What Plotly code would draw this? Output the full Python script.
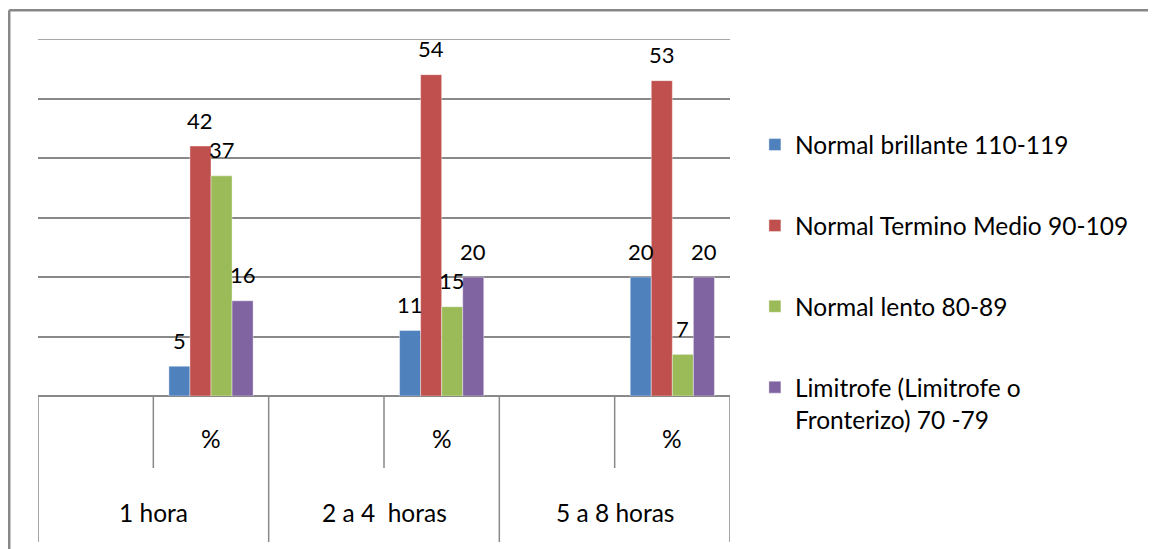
import plotly.graph_objects as go

groups = ["1 hora", "2 a 4  horas", "5 a 8 horas"]
sub_label = "%"
series_names = [
    "Normal brillante 110-119",
    "Normal Termino Medio 90-109",
    "Normal lento 80-89",
    "Limitrofe (Limitrofe o<br>Fronterizo) 70 -79",
]
brillante = [5, 11, 20]
termino_medio = [42, 54, 53]
lento = [37, 15, 7]
limitrofe = [16, 20, 20]
colors = ["#4F81BD", "#C0504D", "#9BBB59", "#8064A2"]

series_values = [brillante, termino_medio, lento, limitrofe]

FONT = "Lato"
GRID = "#898989"
BARGAP = 0.635
TXT = 24.5
Y_MAX = 60

# each outer group holds two inner slots: an empty one and "%"; bars sit in "%"
x_pos = [2 * i + 1.5 for i in range(len(groups))]
bar_w = (1 - BARGAP) * 2 / len(series_values)

fig = go.Figure()
for k, (name, vals, col) in enumerate(zip(series_names, series_values, colors)):
    fig.add_trace(go.Bar(
        x=x_pos, y=vals, name=name, legendgroup=str(k),
        marker=dict(color=col, line=dict(color="rgba(255,255,255,0.5)", width=0.8)),
        hoverinfo="skip",
    ))
    for xp, v in zip(x_pos, vals):
        fig.add_annotation(
            x=xp + (k - 1.5) * bar_w, y=v, xref="x", yref="y",
            text=str(v), showarrow=False, yshift=26, yanchor="middle",
            font=dict(family=FONT, size=22, color="#000"),
        )

shapes = []
# top gridline (edge gridline is not drawn by plotly)
shapes.append(dict(type="line", xref="x", yref="y", x0=0, x1=6, y0=Y_MAX, y1=Y_MAX,
                   line=dict(color=GRID, width=1.5), layer="below"))
# category axis separators
for i in range(len(groups) + 1):
    shapes.append(dict(type="line", xref="x", yref="paper", x0=2 * i, x1=2 * i,
                       y0=-0.409, y1=0, line=dict(color=GRID, width=1.5)))
for i in range(len(groups)):
    shapes.append(dict(type="line", xref="x", yref="paper", x0=2 * i + 1, x1=2 * i + 1,
                       y0=-0.2017, y1=0, line=dict(color=GRID, width=1.5)))
    fig.add_annotation(x=2 * i + 1.5, y=-0.1204, xref="x", yref="paper", text=sub_label,
                       showarrow=False, yanchor="middle",
                       font=dict(family=FONT, size=TXT, color="#000"))
    fig.add_annotation(x=2 * i + 1, y=-0.325, xref="x", yref="paper", text=groups[i],
                       showarrow=False, yanchor="middle",
                       font=dict(family=FONT, size=TXT, color="#000"))
# outer chart border (only top and left edges fall inside the picture)
shapes.append(dict(type="line", xref="paper", yref="paper", x0=-0.0416, x1=1.7,
                   y0=1.0807, y1=1.0807, line=dict(color="#878787", width=2.5)))
shapes.append(dict(type="line", xref="paper", yref="paper", x0=-0.0416, x1=-0.0416,
                   y0=-0.6, y1=1.0807, line=dict(color="#878787", width=2.5)))

fig.update_layout(
    width=1148, height=541,
    margin=dict(l=30, r=426, t=31, b=153),
    paper_bgcolor="white", plot_bgcolor="white",
    barmode="group", bargap=BARGAP, bargroupgap=0,
    shapes=shapes,
    font=dict(family=FONT, size=TXT, color="#000"),
    xaxis=dict(range=[0, 6], showticklabels=False, showgrid=False, zeroline=False,
               showline=False, fixedrange=True),
    yaxis=dict(range=[0, Y_MAX], dtick=10, showticklabels=False, showgrid=True,
               gridcolor=GRID, gridwidth=1.5, zeroline=True, zerolinecolor=GRID,
               zerolinewidth=1.5, showline=False),
    legend=dict(x=1.036, xanchor="left", y=0.767, yanchor="top",
                traceorder="grouped", tracegroupgap=46, valign="top",
                font=dict(family=FONT, size=TXT, color="#000"),
                bgcolor="rgba(0,0,0,0)"),
)

fig.write_html("out.html", post_script="document.documentElement.style.overflow='hidden';")
